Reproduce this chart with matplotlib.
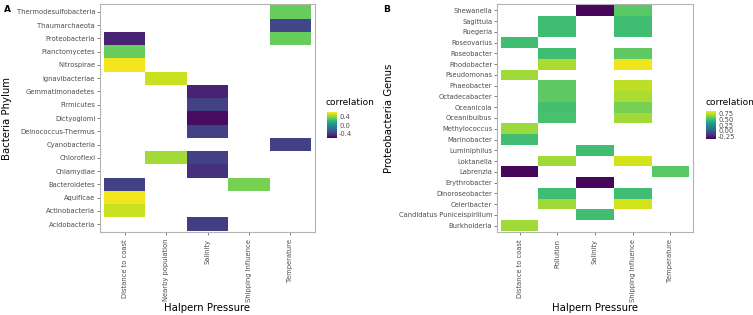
import numpy as np
import matplotlib
matplotlib.use('Agg')
import matplotlib.pyplot as plt

# Panel A data
a_pressures = ['Distance to coast', 'Nearby population', 'Salinity', 'Shipping influence', 'Temperature']
a_phyla = ['Acidobacteria', 'Actinobacteria', 'Aquificae', 'Bacteroidetes', 'Chlamydiae', 'Chloroflexi',
           'Cyanobacteria', 'Deinococcus-Thermus', 'Dictyoglomi', 'Firmicutes', 'Gemmatimonadetes',
           'Ignavibacteriae', 'Nitrospirae', 'Planctomycetes', 'Proteobacteria', 'Thaumarchaeota',
           'Thermodesulfobacteria']
# (phylum, pressure, correlation)
a_cells = [
    ('Thermodesulfobacteria', 'Temperature', 0.33),
    ('Thaumarchaeota', 'Temperature', -0.36),
    ('Proteobacteria', 'Distance to coast', -0.50),
    ('Proteobacteria', 'Temperature', 0.33),
    ('Planctomycetes', 'Distance to coast', 0.33),
    ('Nitrospirae', 'Distance to coast', 0.60),
    ('Ignavibacteriae', 'Nearby population', 0.52),
    ('Gemmatimonadetes', 'Salinity', -0.50),
    ('Firmicutes', 'Salinity', -0.38),
    ('Dictyoglomi', 'Salinity', -0.58),
    ('Deinococcus-Thermus', 'Salinity', -0.38),
    ('Cyanobacteria', 'Temperature', -0.38),
    ('Chloroflexi', 'Nearby population', 0.45),
    ('Chloroflexi', 'Salinity', -0.38),
    ('Chlamydiae', 'Salinity', -0.45),
    ('Bacteroidetes', 'Distance to coast', -0.38),
    ('Bacteroidetes', 'Shipping influence', 0.36),
    ('Aquificae', 'Distance to coast', 0.60),
    ('Actinobacteria', 'Distance to coast', 0.52),
    ('Acidobacteria', 'Salinity', -0.40),
]

# Panel B data
b_pressures = ['Distance to coast', 'Pollution', 'Salinity', 'Shipping influence', 'Temperature']
b_genera = ['Burkholderia', 'Candidatus Puniceispirillum', 'Celeribacter', 'Dinoroseobacter', 'Erythrobacter',
            'Labrenzia', 'Loktanella', 'Luminiphilus', 'Marinobacter', 'Methylococcus', 'Oceanibulbus',
            'Oceanicola', 'Octadecabacter', 'Phaeobacter', 'Pseudomonas', 'Rhodobacter', 'Roseobacter',
            'Roseovarius', 'Ruegeria', 'Sagittula', 'Shewanella']
b_cells = [
    ('Shewanella', 'Salinity', -0.33),
    ('Shewanella', 'Shipping influence', 0.54),
    ('Sagittula', 'Pollution', 0.48),
    ('Sagittula', 'Shipping influence', 0.48),
    ('Ruegeria', 'Pollution', 0.48),
    ('Ruegeria', 'Shipping influence', 0.48),
    ('Roseovarius', 'Distance to coast', 0.48),
    ('Roseobacter', 'Pollution', 0.48),
    ('Roseobacter', 'Shipping influence', 0.55),
    ('Rhodobacter', 'Pollution', 0.70),
    ('Rhodobacter', 'Shipping influence', 0.82),
    ('Pseudomonas', 'Distance to coast', 0.68),
    ('Phaeobacter', 'Pollution', 0.55),
    ('Phaeobacter', 'Shipping influence', 0.73),
    ('Octadecabacter', 'Pollution', 0.55),
    ('Octadecabacter', 'Shipping influence', 0.70),
    ('Oceanicola', 'Pollution', 0.49),
    ('Oceanicola', 'Shipping influence', 0.60),
    ('Oceanibulbus', 'Pollution', 0.50),
    ('Oceanibulbus', 'Shipping influence', 0.68),
    ('Methylococcus', 'Distance to coast', 0.67),
    ('Marinobacter', 'Distance to coast', 0.48),
    ('Luminiphilus', 'Salinity', 0.48),
    ('Loktanella', 'Pollution', 0.68),
    ('Loktanella', 'Shipping influence', 0.77),
    ('Labrenzia', 'Distance to coast', -0.33),
    ('Labrenzia', 'Temperature', 0.54),
    ('Erythrobacter', 'Salinity', -0.33),
    ('Dinoroseobacter', 'Pollution', 0.48),
    ('Dinoroseobacter', 'Shipping influence', 0.48),
    ('Celeribacter', 'Pollution', 0.68),
    ('Celeribacter', 'Shipping influence', 0.77),
    ('Candidatus Puniceispirillum', 'Salinity', 0.48),
    ('Burkholderia', 'Distance to coast', 0.68),
]

grey = '#4d4d4d'
border = '#b3b3b3'
tick_fs = 4.9


def build_grid(rows, cols, cells):
    grid = np.full((len(rows), len(cols)), np.nan)
    for r, c, v in cells:
        grid[rows.index(r), cols.index(c)] = v
    return np.ma.masked_invalid(grid)


def draw_panel(ax, rows, cols, cells, ylabel, vmin, vmax):
    grid = build_grid(rows, cols, cells)
    mesh = ax.pcolormesh(np.arange(len(cols) + 1) - 0.5, np.arange(len(rows) + 1) - 0.5, grid,
                         cmap='viridis', vmin=vmin, vmax=vmax)
    ax.set_xlim(-0.6, len(cols) - 0.4)
    ax.set_ylim(-0.6, len(rows) - 0.4)
    ax.set_xticks(range(len(cols)))
    ax.set_xticklabels(cols, rotation=90, fontsize=tick_fs, color=grey)
    ax.set_yticks(range(len(rows)))
    ax.set_yticklabels(rows, fontsize=tick_fs, color=grey)
    ax.tick_params(length=2, width=0.5, color=grey, pad=1.5)
    ax.tick_params(axis='x', pad=3)
    for s in ax.spines.values():
        s.set_color(border)
        s.set_linewidth(0.8)
    ax.set_xlabel('Halpern Pressure', fontsize=7.3, labelpad=1)
    ax.set_ylabel(ylabel, fontsize=7.3, labelpad=3)
    return mesh


fig = plt.figure(figsize=(7.53, 3.15), dpi=100)

axA = fig.add_axes([100 / 753, 1 - 232 / 315, 215 / 753, 228 / 315])
meshA = draw_panel(axA, a_phyla, a_pressures, a_cells, 'Bacteria Phylum', -0.62, 0.62)
caxA = fig.add_axes([327 / 753, 1 - 138 / 315, 10 / 753, 26 / 315])
cbA = fig.colorbar(meshA, cax=caxA, ticks=[-0.4, 0.0, 0.4])
cbA.outline.set_visible(False)
cbA.ax.tick_params(labelsize=tick_fs, length=0, pad=1.5, labelcolor=grey)
cbA.ax.set_yticklabels(['-0.4', '0.0', '0.4'])
fig.text(325 / 753, 1 - 103 / 315, 'correlation', fontsize=6.5, va='center', ha='left')

axB = fig.add_axes([497 / 753, 1 - 232 / 315, 196 / 753, 228 / 315])
meshB = draw_panel(axB, b_genera, b_pressures, b_cells, 'Proteobacteria Genus', -0.35, 0.85)
cbB = fig.colorbar(meshB, cax=fig.add_axes([706 / 753, 1 - 139 / 315, 10 / 753, 28 / 315]),
                   ticks=[-0.25, 0.0, 0.25, 0.5, 0.75])
cbB.outline.set_visible(False)
cbB.ax.tick_params(labelsize=tick_fs, length=0, pad=1.5, labelcolor=grey)
cbB.ax.set_yticklabels(['-0.25', '0.00', '0.25', '0.50', '0.75'])
fig.text(705 / 753, 1 - 103 / 315, 'correlation', fontsize=6.5, va='center', ha='left')

fig.text(4 / 753, 1 - 9 / 315, 'A', fontsize=6.5, fontweight='bold', va='center')
fig.text(383 / 753, 1 - 10 / 315, 'B', fontsize=6.5, fontweight='bold', va='center')

fig.savefig('out.png', dpi=100)
